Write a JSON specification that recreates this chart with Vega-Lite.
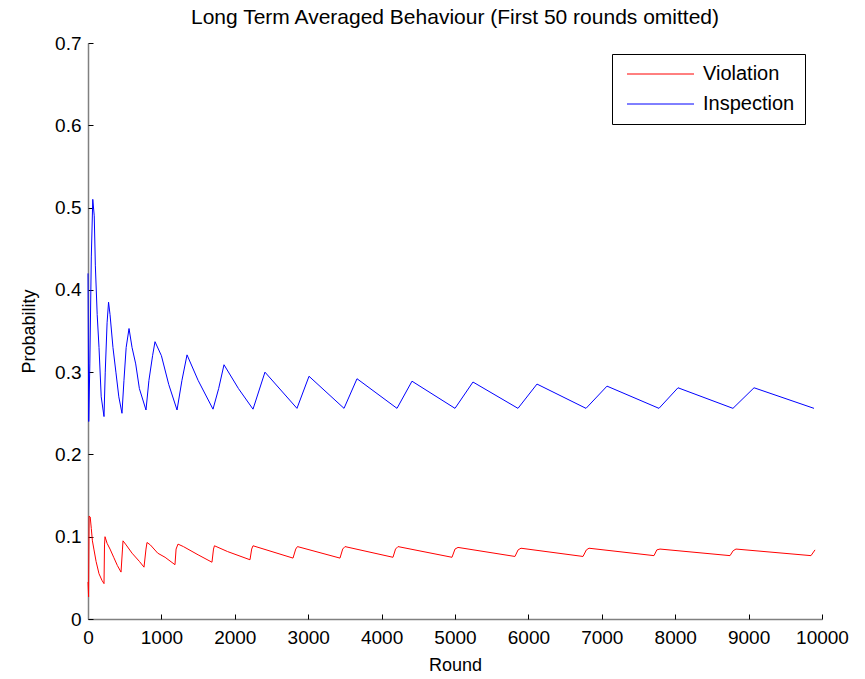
{
  "$schema": "https://vega.github.io/schema/vega-lite/v6.json",
  "width": 734,
  "height": 576,
  "autosize": "none",
  "padding": {"left": 88, "top": 43, "right": 43, "bottom": 60},
  "background": "white",
  "title": {
    "text": "Long Term Averaged Behaviour (First 50 rounds omitted)",
    "font": "Liberation Sans",
    "fontSize": 21,
    "fontWeight": "normal",
    "color": "#000000",
    "anchor": "middle",
    "offset": 6
  },
  "config": {
    "view": {"stroke": null},
    "font": "Liberation Sans"
  },
  "datasets": {
    "series": [
      {"round": 0, "p": 0.42, "series": "Inspection"},
      {"round": 10, "p": 0.24, "series": "Inspection"},
      {"round": 25, "p": 0.31, "series": "Inspection"},
      {"round": 45, "p": 0.44, "series": "Inspection"},
      {"round": 65, "p": 0.51, "series": "Inspection"},
      {"round": 85, "p": 0.49, "series": "Inspection"},
      {"round": 100, "p": 0.43, "series": "Inspection"},
      {"round": 125, "p": 0.37, "series": "Inspection"},
      {"round": 150, "p": 0.33, "series": "Inspection"},
      {"round": 180, "p": 0.27, "series": "Inspection"},
      {"round": 218, "p": 0.246, "series": "Inspection"},
      {"round": 235, "p": 0.30, "series": "Inspection"},
      {"round": 260, "p": 0.36, "series": "Inspection"},
      {"round": 280, "p": 0.385, "series": "Inspection"},
      {"round": 300, "p": 0.37, "series": "Inspection"},
      {"round": 340, "p": 0.33, "series": "Inspection"},
      {"round": 380, "p": 0.30, "series": "Inspection"},
      {"round": 420, "p": 0.27, "series": "Inspection"},
      {"round": 463, "p": 0.25, "series": "Inspection"},
      {"round": 490, "p": 0.29, "series": "Inspection"},
      {"round": 520, "p": 0.33, "series": "Inspection"},
      {"round": 559, "p": 0.353, "series": "Inspection"},
      {"round": 600, "p": 0.33, "series": "Inspection"},
      {"round": 650, "p": 0.31, "series": "Inspection"},
      {"round": 700, "p": 0.28, "series": "Inspection"},
      {"round": 790, "p": 0.254, "series": "Inspection"},
      {"round": 830, "p": 0.29, "series": "Inspection"},
      {"round": 880, "p": 0.32, "series": "Inspection"},
      {"round": 913, "p": 0.337, "series": "Inspection"},
      {"round": 1000, "p": 0.32, "series": "Inspection"},
      {"round": 1100, "p": 0.285, "series": "Inspection"},
      {"round": 1213, "p": 0.254, "series": "Inspection"},
      {"round": 1280, "p": 0.29, "series": "Inspection"},
      {"round": 1349, "p": 0.321, "series": "Inspection"},
      {"round": 1500, "p": 0.29, "series": "Inspection"},
      {"round": 1703, "p": 0.255, "series": "Inspection"},
      {"round": 1780, "p": 0.28, "series": "Inspection"},
      {"round": 1853, "p": 0.309, "series": "Inspection"},
      {"round": 2050, "p": 0.28, "series": "Inspection"},
      {"round": 2248, "p": 0.255, "series": "Inspection"},
      {"round": 2411, "p": 0.300, "series": "Inspection"},
      {"round": 2847, "p": 0.256, "series": "Inspection"},
      {"round": 3011, "p": 0.295, "series": "Inspection"},
      {"round": 3488, "p": 0.256, "series": "Inspection"},
      {"round": 3665, "p": 0.292, "series": "Inspection"},
      {"round": 4210, "p": 0.256, "series": "Inspection"},
      {"round": 4414, "p": 0.289, "series": "Inspection"},
      {"round": 5000, "p": 0.256, "series": "Inspection"},
      {"round": 5245, "p": 0.288, "series": "Inspection"},
      {"round": 5858, "p": 0.256, "series": "Inspection"},
      {"round": 6117, "p": 0.2855, "series": "Inspection"},
      {"round": 6785, "p": 0.256, "series": "Inspection"},
      {"round": 7071, "p": 0.283, "series": "Inspection"},
      {"round": 7779, "p": 0.256, "series": "Inspection"},
      {"round": 8038, "p": 0.281, "series": "Inspection"},
      {"round": 8787, "p": 0.256, "series": "Inspection"},
      {"round": 9074, "p": 0.281, "series": "Inspection"},
      {"round": 9891, "p": 0.256, "series": "Inspection"},

      {"round": 0, "p": 0.045, "series": "Violation"},
      {"round": 8, "p": 0.027, "series": "Violation"},
      {"round": 15, "p": 0.125, "series": "Violation"},
      {"round": 30, "p": 0.124, "series": "Violation"},
      {"round": 45, "p": 0.11, "series": "Violation"},
      {"round": 60, "p": 0.095, "series": "Violation"},
      {"round": 80, "p": 0.085, "series": "Violation"},
      {"round": 110, "p": 0.07, "series": "Violation"},
      {"round": 150, "p": 0.055, "series": "Violation"},
      {"round": 190, "p": 0.047, "series": "Violation"},
      {"round": 218, "p": 0.043, "series": "Violation"},
      {"round": 225, "p": 0.09, "series": "Violation"},
      {"round": 232, "p": 0.1, "series": "Violation"},
      {"round": 260, "p": 0.092, "series": "Violation"},
      {"round": 300, "p": 0.085, "series": "Violation"},
      {"round": 350, "p": 0.075, "series": "Violation"},
      {"round": 400, "p": 0.065, "series": "Violation"},
      {"round": 450, "p": 0.057, "series": "Violation"},
      {"round": 470, "p": 0.085, "series": "Violation"},
      {"round": 477, "p": 0.095, "series": "Violation"},
      {"round": 520, "p": 0.09, "series": "Violation"},
      {"round": 600, "p": 0.08, "series": "Violation"},
      {"round": 700, "p": 0.07, "series": "Violation"},
      {"round": 763, "p": 0.063, "series": "Violation"},
      {"round": 790, "p": 0.085, "series": "Violation"},
      {"round": 804, "p": 0.093, "series": "Violation"},
      {"round": 850, "p": 0.09, "series": "Violation"},
      {"round": 950, "p": 0.08, "series": "Violation"},
      {"round": 1050, "p": 0.075, "series": "Violation"},
      {"round": 1185, "p": 0.066, "series": "Violation"},
      {"round": 1200, "p": 0.085, "series": "Violation"},
      {"round": 1226, "p": 0.091, "series": "Violation"},
      {"round": 1300, "p": 0.088, "series": "Violation"},
      {"round": 1500, "p": 0.078, "series": "Violation"},
      {"round": 1689, "p": 0.069, "series": "Violation"},
      {"round": 1710, "p": 0.085, "series": "Violation"},
      {"round": 1723, "p": 0.089, "series": "Violation"},
      {"round": 1900, "p": 0.082, "series": "Violation"},
      {"round": 2207, "p": 0.072, "series": "Violation"},
      {"round": 2230, "p": 0.085, "series": "Violation"},
      {"round": 2248, "p": 0.089, "series": "Violation"},
      {"round": 2793, "p": 0.074, "series": "Violation"},
      {"round": 2830, "p": 0.085, "series": "Violation"},
      {"round": 2854, "p": 0.088, "series": "Violation"},
      {"round": 3433, "p": 0.074, "series": "Violation"},
      {"round": 3470, "p": 0.085, "series": "Violation"},
      {"round": 3501, "p": 0.088, "series": "Violation"},
      {"round": 4155, "p": 0.075, "series": "Violation"},
      {"round": 4190, "p": 0.085, "series": "Violation"},
      {"round": 4223, "p": 0.088, "series": "Violation"},
      {"round": 4959, "p": 0.075, "series": "Violation"},
      {"round": 5000, "p": 0.085, "series": "Violation"},
      {"round": 5041, "p": 0.087, "series": "Violation"},
      {"round": 5817, "p": 0.076, "series": "Violation"},
      {"round": 5860, "p": 0.084, "series": "Violation"},
      {"round": 5899, "p": 0.086, "series": "Violation"},
      {"round": 6744, "p": 0.076, "series": "Violation"},
      {"round": 6790, "p": 0.084, "series": "Violation"},
      {"round": 6826, "p": 0.086, "series": "Violation"},
      {"round": 7711, "p": 0.077, "series": "Violation"},
      {"round": 7750, "p": 0.084, "series": "Violation"},
      {"round": 7793, "p": 0.085, "series": "Violation"},
      {"round": 8747, "p": 0.077, "series": "Violation"},
      {"round": 8790, "p": 0.083, "series": "Violation"},
      {"round": 8828, "p": 0.085, "series": "Violation"},
      {"round": 9850, "p": 0.077, "series": "Violation"},
      {"round": 9905, "p": 0.084, "series": "Violation"}
    ]
  },
  "data": {"name": "series"},
  "resolve": {"axis": {"x": "independent", "y": "independent"}},
  "layer": [
    {
      "mark": {"type": "line", "strokeWidth": 1, "interpolate": "linear"},
      "encoding": {
        "x": {
          "field": "round",
          "type": "quantitative",
          "scale": {"domain": [0, 10000], "nice": false, "zero": false},
          "axis": {
            "orient": "bottom",
            "title": "Round",
            "titleFont": "Liberation Sans",
            "titleFontSize": 18,
            "titleFontWeight": "normal",
            "titleColor": "#000000",
            "titlePadding": 9,
            "values": [0, 1000, 2000, 3000, 4000, 5000, 6000, 7000, 8000, 9000, 10000],
            "format": "d",
            "labelFontSize": 19,
            "labelColor": "#000000",
            "labelPadding": 9,
            "labelFlush": false,
            "labelOverlap": false,
            "grid": false,
            "domainColor": "#808080",
            "domainWidth": 1.5,
            "ticks": false
          }
        },
        "y": {
          "field": "p",
          "type": "quantitative",
          "scale": {"domain": [0, 0.7], "nice": false, "zero": false},
          "axis": {
            "orient": "left",
            "title": "Probability",
            "titleFont": "Liberation Sans",
            "titleFontSize": 18,
            "titleFontWeight": "normal",
            "titleColor": "#000000",
            "titlePadding": 16,
            "values": [0, 0.1, 0.2, 0.3, 0.4, 0.5, 0.6, 0.7],
            "labelExpr": "datum.value == 0 ? '0' : format(datum.value, '.1f')",
            "labelFontSize": 19,
            "labelColor": "#000000",
            "labelPadding": 7,
            "labelFlush": false,
            "labelOverlap": false,
            "grid": false,
            "domainColor": "#808080",
            "domainWidth": 1.5,
            "ticks": false
          }
        },
        "color": {
          "field": "series",
          "type": "nominal",
          "scale": {"domain": ["Violation", "Inspection"], "range": ["#ff0000", "#0000ff"]},
          "legend": {
            "title": null,
            "orient": "none",
            "legendX": 524,
            "legendY": 11,
            "symbolType": "M-1,0H12.4",
            "symbolSize": 100,
            "symbolStrokeWidth": 1,
            "labelFont": "Liberation Sans",
            "labelFontSize": 20,
            "labelColor": "#000000",
            "labelOffset": 61,
            "rowPadding": 10,
            "padding": 10,
            "strokeColor": "#000000",
            "fillColor": "#ffffff",
            "encode": {
              "symbols": {
                "update": {
                  "stroke": {"scale": "color", "field": "value"},
                  "fill": {"value": "transparent"}
                }
              }
            }
          }
        }
      }
    },
    {
      "mark": {"type": "line", "opacity": 0},
      "encoding": {
        "detail": {"field": "series", "type": "nominal"},
        "x": {
          "field": "round",
          "type": "quantitative",
          "axis": {
            "orient": "bottom",
            "title": null,
            "values": [0, 1000, 2000, 3000, 4000, 5000, 6000, 7000, 8000, 9000, 10000],
            "labels": false,
            "domain": false,
            "grid": false,
            "ticks": true,
            "tickColor": "#000000",
            "tickSize": 5,
            "tickWidth": 1,
            "offset": -5
          }
        },
        "y": {
          "field": "p",
          "type": "quantitative",
          "axis": {
            "orient": "left",
            "title": null,
            "values": [0, 0.1, 0.2, 0.3, 0.4, 0.5, 0.6, 0.7],
            "labels": false,
            "domain": false,
            "grid": false,
            "ticks": true,
            "tickColor": "#000000",
            "tickSize": 5,
            "tickWidth": 1,
            "offset": -5
          }
        }
      }
    }
  ]
}
